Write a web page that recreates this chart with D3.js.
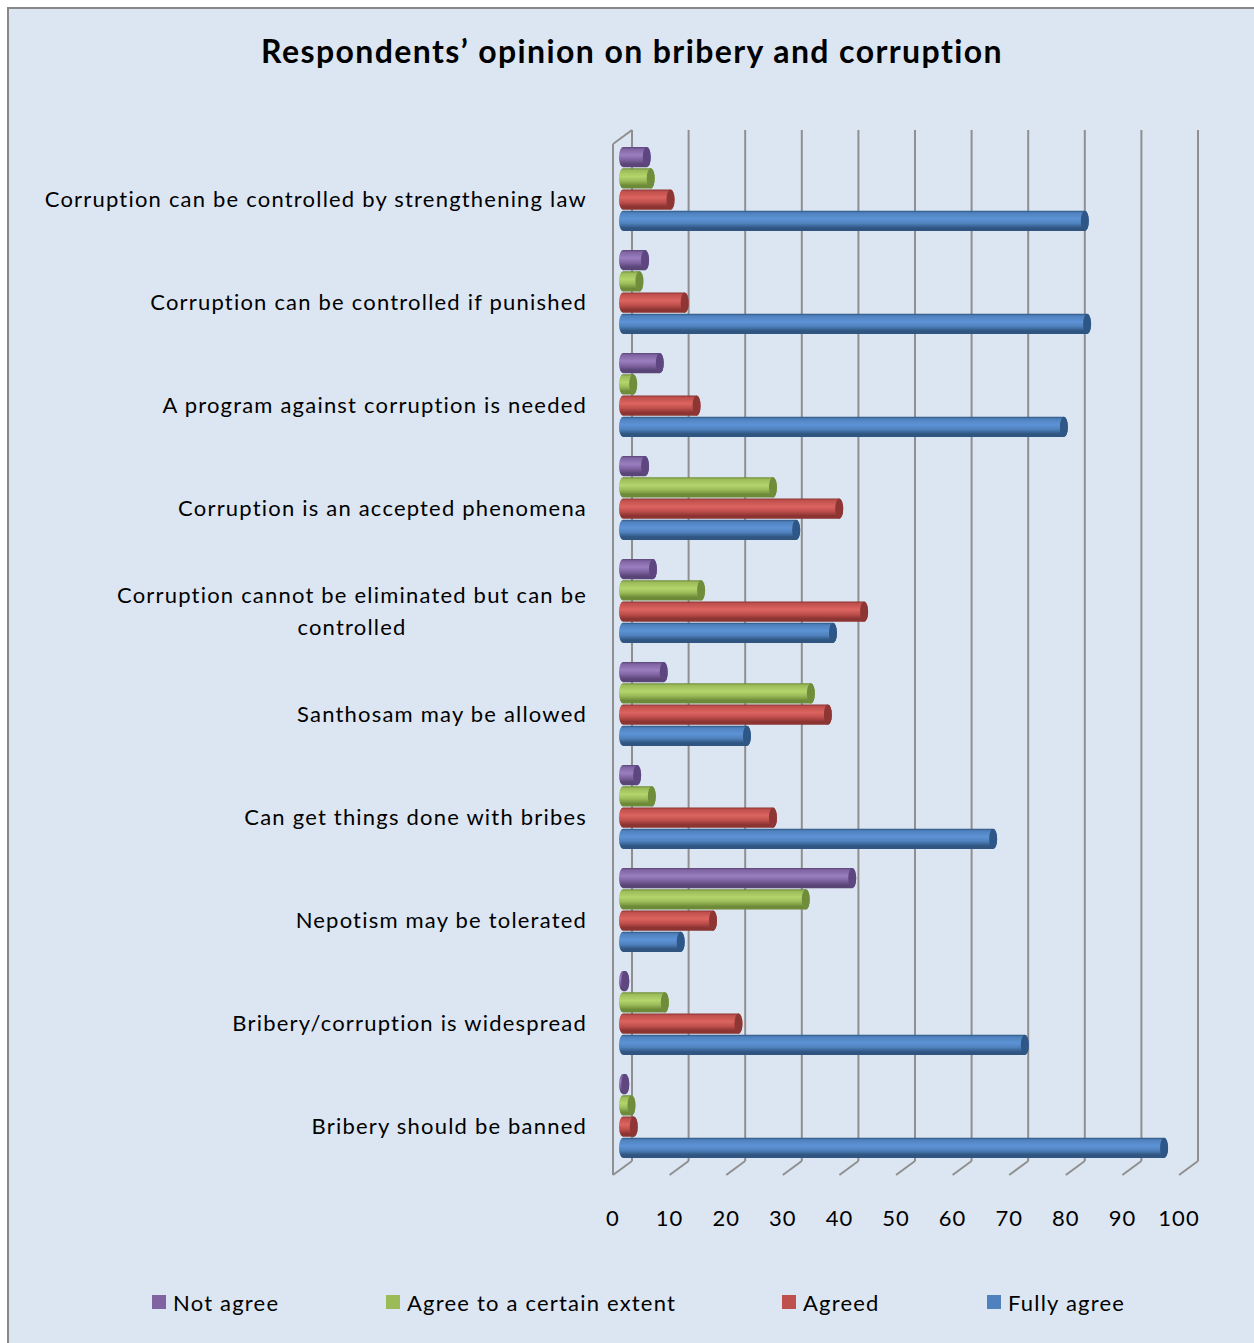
<!DOCTYPE html>
<html>
<head>
<meta charset="utf-8">
<script src="https://cdn.jsdelivr.net/npm/d3@7"></script>
<style>
  html, body { margin: 0; padding: 0; background: #ffffff; }
  svg { display: block; }
  text { font-family: Lato, "Open Sans", "Noto Sans", sans-serif; fill: #000; }
</style>
</head>
<body>
<svg id="chart" width="1254" height="1343"></svg>
<script>
// Survey statements (top to bottom) and the share of respondents per answer (%)
const categories = [
  ["Corruption can be controlled by strengthening law"],
  ["Corruption can be controlled if punished"],
  ["A program against corruption is needed"],
  ["Corruption is an accepted phenomena"],
  ["Corruption cannot be eliminated but can be", "controlled"],
  ["Santhosam may be allowed"],
  ["Can get things done with bribes"],
  ["Nepotism  may be tolerated"],
  ["Bribery/corruption is widespread"],
  ["Bribery should be banned"]
];
const seriesNames = ["Not agree", "Agree to a certain extent", "Agreed", "Fully agree"];
const notAgree       = [4.2, 3.9, 6.5, 3.9, 5.3, 7.2, 2.5, 40.5, 0.4, 0.4];
const agreeToExtent  = [4.9, 2.9, 1.8, 26.5, 13.8, 33.2, 5.1, 32.3, 7.4, 1.5];
const agreed         = [8.4, 10.9, 13.0, 38.2, 42.6, 36.2, 26.5, 15.9, 20.4, 1.9];
const fullyAgree     = [81.6, 82.0, 77.9, 30.6, 37.1, 21.9, 65.4, 10.2, 71.0, 95.6];
const seriesValues = [notAgree, agreeToExtent, agreed, fullyAgree];
const tickValues = [0, 10, 20, 30, 40, 50, 60, 70, 80, 90, 100];

const palette = {
  "Not agree":                 { base: "#8064a2", light: "#9a7fc0", dark: "#5a4577", cap: "#5e4680" },
  "Agree to a certain extent": { base: "#9bbb59", light: "#b4d56c", dark: "#6d8a38", cap: "#6f8d3a" },
  "Agreed":                    { base: "#c0504d", light: "#dc6460", dark: "#8c3432", cap: "#8e3634" },
  "Fully agree":               { base: "#4f81bd", light: "#5d93d6", dark: "#2f5580", cap: "#2e5686" }
};

const svg = d3.select("#chart");
const W = 1254, H = 1343;

// Chart area with frame
svg.append("rect").attr("x", 8).attr("y", 8).attr("width", W + 10).attr("height", H + 10)
  .attr("fill", "#dce6f2").attr("stroke", "#888888").attr("stroke-width", 2);

// Title
svg.append("text").attr("x", 632).attr("y", 63).attr("text-anchor", "middle")
  .style("font-size", "32px").style("font-weight", "bold").style("letter-spacing", "1.4px")
  .text("Respondents\u2019 opinion on bribery and corruption");

// Value scales: back wall, front edge and the bar mid-plane of the 3D box
const xBack  = d3.scaleLinear().domain([0, 100]).range([632, 1198]);
const xFront = d3.scaleLinear().domain([0, 100]).range([613, 1179]);
const xBar   = d3.scaleLinear().domain([0, 100]).range([623, 1189]);
const wallTop = 130, floorBack = 1161, floorFront = 1175, depthRise = 14;

// Category bands and series sub-bands
const y0 = d3.scaleBand().domain(d3.range(categories.length))
  .range([137.5, 1167.5]).paddingInner(0.184).paddingOuter(0.092);
const y1 = d3.scaleBand().domain(seriesNames).range([0, y0.bandwidth()]).paddingInner(0.05);

const grid = svg.append("g").attr("stroke", "#8f8f8f").attr("stroke-width", 2).attr("fill", "none");
// Back-wall gridlines
tickValues.forEach(v => {
  grid.append("line").attr("x1", xBack(v)).attr("x2", xBack(v))
    .attr("y1", wallTop).attr("y2", floorBack);
});
// Floor tick marks (front edge to back wall)
tickValues.forEach(v => {
  grid.append("line").attr("x1", xFront(v)).attr("y1", floorFront)
    .attr("x2", xBack(v)).attr("y2", floorBack);
});
// Left side wall edges
grid.append("line").attr("x1", xFront(0)).attr("x2", xFront(0))
  .attr("y1", wallTop + depthRise).attr("y2", floorFront);
grid.append("line").attr("x1", xFront(0)).attr("y1", wallTop + depthRise)
  .attr("x2", xBack(0)).attr("y2", wallTop);

// Gradients giving the cylinders their shading
const defs = svg.append("defs");
seriesNames.forEach((name, i) => {
  const c = palette[name];
  const g = defs.append("linearGradient").attr("id", "grad" + i)
    .attr("x1", 0).attr("y1", 0).attr("x2", 0).attr("y2", 1);
  [[0, c.dark], [0.1, c.base], [0.4, c.light], [0.62, c.base], [0.85, c.dark], [1, c.dark]]
    .forEach(([o, col]) => g.append("stop").attr("offset", o).attr("stop-color", col));
});

// Cylinder bars
const rx = 4;
const bars = svg.append("g");
categories.forEach((cat, ci) => {
  seriesNames.forEach((name, si) => {
    const v = seriesValues[si][ci];
    const x0 = xBar(0), x1 = xBar(v);
    const y = y0(ci) + y1(name), h = y1.bandwidth(), ry = h / 2;
    const body = `M${x0},${y} L${x1},${y} A${rx},${ry} 0 0 1 ${x1},${y + h} L${x0},${y + h} A${rx},${ry} 0 0 1 ${x0},${y} Z`;
    bars.append("path").attr("d", body).attr("fill", `url(#grad${si})`);
    bars.append("ellipse").attr("cx", x1).attr("cy", y + ry).attr("rx", rx).attr("ry", ry)
      .attr("fill", palette[name].cap);
  });
});

// Category labels
const labels = svg.append("g").style("font-size", "22px").style("letter-spacing", "1.2px");
categories.forEach((lines, ci) => {
  const cy = y0(ci) + y0.bandwidth() / 2 + 9;
  const lh = 32;
  const t = labels.append("text").attr("text-anchor", "middle").attr("dominant-baseline", "central");
  lines.forEach((ln, li) => {
    t.append("tspan").attr("x", 0).attr("y", cy + (li - (lines.length - 1) / 2) * lh).text(ln);
  });
  // right-align the (centered) text block to the axis side
  const bw = t.node().getBBox().width;
  t.attr("transform", `translate(${587 - bw / 2},0)`);
});

// Value axis labels
const axisLabels = svg.append("g").style("font-size", "22px").style("letter-spacing", "1px");
tickValues.forEach(v => {
  axisLabels.append("text").attr("x", xFront(v)).attr("y", 1217)
    .attr("text-anchor", "middle").attr("dominant-baseline", "central").text(v);
});

// Legend
const legendX = [152, 386, 782, 987];
const legend = svg.append("g").style("font-size", "22px").style("letter-spacing", "1.2px");
seriesNames.forEach((name, i) => {
  legend.append("rect").attr("x", legendX[i]).attr("y", 1295).attr("width", 14).attr("height", 14)
    .attr("fill", palette[name].base);
  legend.append("text").attr("x", legendX[i] + 21).attr("y", 1302)
    .attr("dominant-baseline", "central").text(name);
});
</script>
</body>
</html>
